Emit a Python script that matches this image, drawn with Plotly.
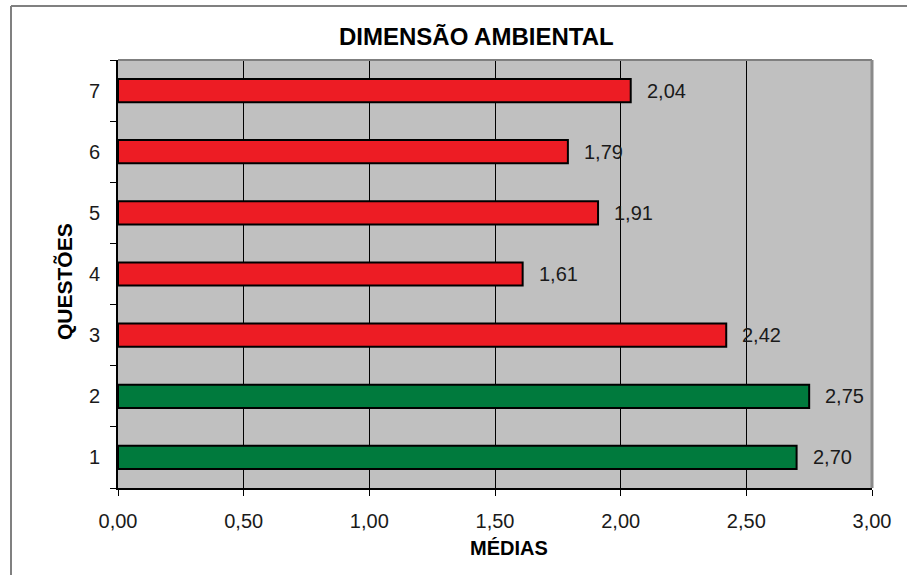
import plotly.graph_objects as go

questoes = ["1", "2", "3", "4", "5", "6", "7"]
medias = [2.70, 2.75, 2.42, 1.61, 1.91, 1.79, 2.04]
cores = ["#007A3D", "#007A3D", "#ED1C24", "#ED1C24", "#ED1C24", "#ED1C24", "#ED1C24"]
x_ticks = [0, 0.5, 1.0, 1.5, 2.0, 2.5, 3.0]

W, H = 907, 575
L, R, T, B = 118, 35, 60, 87
pw, ph = W - L - R, H - T - B

def px(xp):
    return (xp - L) / pw

def py(yp):
    return (H - B - yp) / ph

font = "Liberation Sans, Arial, sans-serif"

fig = go.Figure()
fig.add_trace(go.Bar(
    x=medias, y=questoes, orientation="h",
    marker=dict(color=cores, line=dict(color="black", width=2)),
    width=0.38, hoverinfo="skip",
))

annotations = []
for i, v in enumerate(medias):
    annotations.append(dict(
        x=v, y=i, xref="x", yref="y", text=f"{v:.2f}".replace(".", ","),
        showarrow=False, xanchor="left", yanchor="middle", xshift=14,
        font=dict(family=font, size=20, color="#1a1a1a"),
    ))
annotations.append(dict(
    x=px(509), y=py(548), xref="paper", yref="paper", text="<b>MÉDIAS</b>",
    showarrow=False, xanchor="center", yanchor="middle",
    font=dict(family=font, size=20, color="black"),
))
annotations.append(dict(
    x=px(64), y=py(281), xref="paper", yref="paper", text="<b>QUESTÕES</b>",
    showarrow=False, xanchor="center", yanchor="middle", textangle=-90,
    font=dict(family=font, size=21, color="black"),
))
annotations.append(dict(
    x=px(476), y=py(37), xref="paper", yref="paper", text="<b>DIMENSÃO AMBIENTAL</b>",
    showarrow=False, xanchor="center", yanchor="middle",
    font=dict(family=font, size=24, color="black"),
))

shapes = [
    dict(type="line", xref="paper", yref="paper", x0=0, x1=1, y0=1, y1=1,
         line=dict(color="#7f7f7f", width=2)),
    dict(type="line", xref="paper", yref="paper", x0=1, x1=1, y0=0, y1=1,
         line=dict(color="#8a8a8a", width=3)),
    dict(type="line", xref="paper", yref="paper", x0=px(11), x1=px(907), y0=py(6), y1=py(6),
         line=dict(color="#808080", width=2)),
    dict(type="line", xref="paper", yref="paper", x0=px(11), x1=px(11), y0=py(6), y1=py(575),
         line=dict(color="#808080", width=2)),
]

fig.update_layout(
    width=W, height=H,
    margin=dict(l=L, r=R, t=T, b=B, pad=0),
    paper_bgcolor="white", plot_bgcolor="#C0C0C0",
    separators=",.",
    showlegend=False,
    annotations=annotations,
    shapes=shapes,
    xaxis=dict(
        range=[0, 3], tickvals=x_ticks, tickformat=".2f",
        showgrid=True, gridcolor="black", gridwidth=1, zeroline=False,
        showline=True, linecolor="black", linewidth=2,
        ticks="outside", ticklen=6, tickcolor="black", tickwidth=1,
        ticklabelstandoff=8,
        tickfont=dict(family=font, size=20, color="#1a1a1a"),
        fixedrange=True,
    ),
    yaxis=dict(
        type="category", categoryorder="array", categoryarray=questoes,
        range=[-0.5, 6.5], autorange=False,
        showgrid=False, zeroline=False,
        showline=True, linecolor="black", linewidth=2,
        ticks="outside", tickson="boundaries", ticklen=6, tickcolor="black", tickwidth=1,
        ticklabelstandoff=12,
        tickfont=dict(family=font, size=20, color="#1a1a1a"),
        fixedrange=True,
    ),
)

fig.write_html("out.html", config={"displayModeBar": False})
